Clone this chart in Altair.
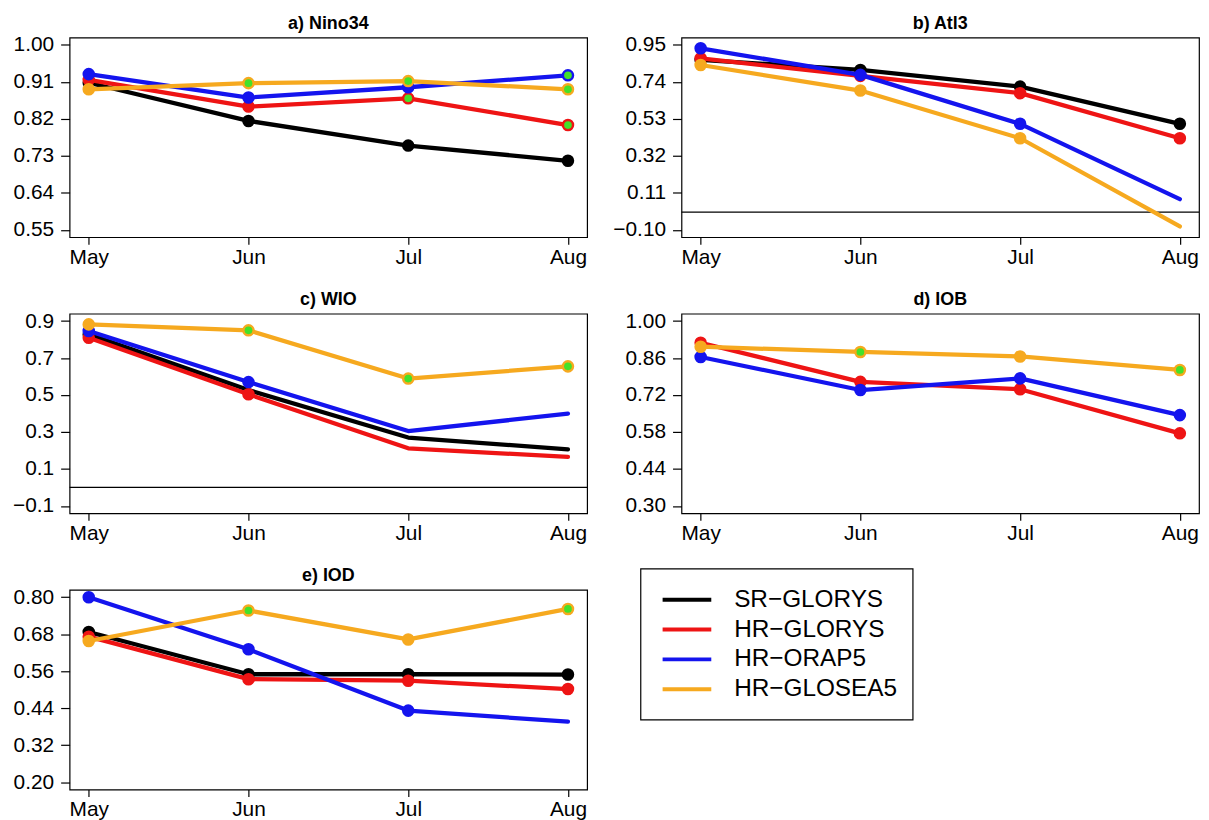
import altair as alt
import pandas as pd

months = ["May", "Jun", "Jul", "Aug"]
series = ["SR-GLORYS", "HR-GLORYS", "HR-ORAP5", "HR-GLOSEA5"]
legend_labels = ["SR\u2212GLORYS", "HR\u2212GLORYS", "HR\u2212ORAP5", "HR\u2212GLOSEA5"]
colors = ["#000000", "#ee1414", "#1414ee", "#f6a91f"]
sig_color = "#44e12a"

titles = ["a) Nino34", "b) Atl3", "c) WIO", "d) IOB", "e) IOD"]
y_ticks = [
    [0.55, 0.64, 0.73, 0.82, 0.91, 1.00],
    [-0.10, 0.11, 0.32, 0.53, 0.74, 0.95],
    [-0.1, 0.1, 0.3, 0.5, 0.7, 0.9],
    [0.30, 0.44, 0.58, 0.72, 0.86, 1.00],
    [0.20, 0.32, 0.44, 0.56, 0.68, 0.80],
]
y_formats = [".2f", ".2f", ".1f", ".2f", ".2f"]
zero_line = [False, True, True, False, False]

# correlation per series, May..Aug
nino34 = {
    "SR-GLORYS": [0.908, 0.815, 0.755, 0.718],
    "HR-GLORYS": [0.915, 0.850, 0.870, 0.805],
    "HR-ORAP5": [0.929, 0.872, 0.897, 0.926],
    "HR-GLOSEA5": [0.892, 0.907, 0.912, 0.892],
}
nino34_marker = {
    "SR-GLORYS": [1, 1, 1, 1],
    "HR-GLORYS": [1, 1, 1, 1],
    "HR-ORAP5": [1, 1, 1, 1],
    "HR-GLOSEA5": [1, 1, 1, 1],
}
nino34_signif = {
    "SR-GLORYS": [0, 0, 0, 0],
    "HR-GLORYS": [0, 0, 1, 1],
    "HR-ORAP5": [0, 0, 0, 1],
    "HR-GLOSEA5": [0, 1, 1, 1],
}

atl3 = {
    "SR-GLORYS": [0.865, 0.808, 0.713, 0.502],
    "HR-GLORYS": [0.874, 0.774, 0.676, 0.420],
    "HR-ORAP5": [0.931, 0.780, 0.502, 0.074],
    "HR-GLOSEA5": [0.836, 0.691, 0.420, -0.081],
}
atl3_marker = {
    "SR-GLORYS": [1, 1, 1, 1],
    "HR-GLORYS": [1, 1, 1, 1],
    "HR-ORAP5": [1, 1, 1, 0],
    "HR-GLOSEA5": [1, 1, 1, 0],
}
atl3_signif = {
    "SR-GLORYS": [0, 0, 0, 0],
    "HR-GLORYS": [0, 0, 0, 0],
    "HR-ORAP5": [0, 0, 0, 0],
    "HR-GLOSEA5": [0, 0, 0, 0],
}

wio = {
    "SR-GLORYS": [0.828, 0.527, 0.270, 0.206],
    "HR-GLORYS": [0.810, 0.504, 0.212, 0.165],
    "HR-ORAP5": [0.846, 0.570, 0.305, 0.399],
    "HR-GLOSEA5": [0.882, 0.850, 0.589, 0.655],
}
wio_marker = {
    "SR-GLORYS": [1, 0, 0, 0],
    "HR-GLORYS": [1, 1, 0, 0],
    "HR-ORAP5": [1, 1, 0, 0],
    "HR-GLOSEA5": [1, 1, 1, 1],
}
wio_signif = {
    "SR-GLORYS": [0, 0, 0, 0],
    "HR-GLORYS": [0, 0, 0, 0],
    "HR-ORAP5": [0, 0, 0, 0],
    "HR-GLOSEA5": [0, 1, 1, 1],
}

iob = {
    "HR-GLORYS": [0.918, 0.770, 0.742, 0.575],
    "HR-ORAP5": [0.864, 0.739, 0.783, 0.644],
    "HR-GLOSEA5": [0.903, 0.883, 0.866, 0.815],
}
iob_marker = {
    "HR-GLORYS": [1, 1, 1, 1],
    "HR-ORAP5": [1, 1, 1, 1],
    "HR-GLOSEA5": [1, 1, 1, 1],
}
iob_signif = {
    "HR-GLORYS": [0, 0, 0, 0],
    "HR-ORAP5": [0, 0, 0, 0],
    "HR-GLOSEA5": [0, 1, 0, 1],
}

iod = {
    "SR-GLORYS": [0.687, 0.550, 0.550, 0.549],
    "HR-GLORYS": [0.672, 0.534, 0.529, 0.502],
    "HR-ORAP5": [0.800, 0.631, 0.432, 0.396],
    "HR-GLOSEA5": [0.658, 0.757, 0.663, 0.762],
}
iod_marker = {
    "SR-GLORYS": [1, 1, 1, 1],
    "HR-GLORYS": [1, 1, 1, 1],
    "HR-ORAP5": [1, 1, 1, 0],
    "HR-GLOSEA5": [1, 1, 1, 1],
}
iod_signif = {
    "SR-GLORYS": [0, 0, 0, 0],
    "HR-GLORYS": [0, 0, 0, 0],
    "HR-ORAP5": [0, 0, 0, 0],
    "HR-GLOSEA5": [0, 1, 0, 1],
}

panels = [
    (nino34, nino34_marker, nino34_signif),
    (atl3, atl3_marker, atl3_signif),
    (wio, wio_marker, wio_signif),
    (iob, iob_marker, iob_signif),
    (iod, iod_marker, iod_signif),
]

FONT = "Liberation Sans"
W, H = 521, 201
label_expr = "[" + ",".join("'%s'" % m for m in months) + "][datum.value - 1]"


def make_panel(k, values, markers, signif):
    rows = []
    for s in series:
        if s not in values:
            continue
        for i, m in enumerate(months):
            rows.append({"mi": i + 1, "month": m, "series": s, "r": values[s][i],
                         "mk": markers[s][i], "sg": signif[s][i]})
    df = pd.DataFrame(rows)
    lo, hi = y_ticks[k][0], y_ticks[k][-1]
    pad = 0.04 * (hi - lo)
    xsc = alt.Scale(domain=[0.88, 4.12], nice=False, zero=False)
    ysc = alt.Scale(domain=[lo - pad, hi + pad], nice=False, zero=False)
    xax = alt.Axis(values=[1, 2, 3, 4], labelExpr=label_expr, title=None)
    yax = alt.Axis(values=y_ticks[k], format=y_formats[k], title=None)
    base = alt.Chart(df)
    layers = []
    if zero_line[k]:
        layers.append(
            alt.Chart(pd.DataFrame({"z": [0.0]}))
            .mark_rule(color="black", strokeWidth=1.2)
            .encode(y=alt.Y("z:Q", scale=ysc, axis=yax))
        )
    for s, c in zip(series, colors):
        if s not in values:
            continue
        sub = base.transform_filter(alt.datum.series == s)
        enc = dict(x=alt.X("mi:Q", scale=xsc, axis=xax),
                   y=alt.Y("r:Q", scale=ysc, axis=yax))
        layers.append(sub.mark_line(color=c, strokeWidth=4.3, strokeCap="round",
                                    strokeJoin="round").encode(**enc))
        layers.append(sub.transform_filter(alt.datum.mk == 1)
                      .mark_circle(color=c, size=160, opacity=1).encode(**enc))
        layers.append(sub.transform_filter(alt.datum.sg == 1)
                      .mark_circle(color=sig_color, size=60, opacity=1).encode(**enc))
    return alt.layer(*layers).properties(
        width=W, height=H,
        title=alt.TitleParams(titles[k], fontSize=18, fontWeight="bold", font=FONT,
                              offset=1, anchor="middle", color="black"),
    )


charts = [make_panel(k, *p) for k, p in enumerate(panels)]

leg_df = pd.DataFrame({"series": series, "label": legend_labels})
leg_y = alt.Y("series:N", sort=series, axis=None,
              scale=alt.Scale(type="point", domain=series, range=[10, 100], padding=0))
leg_box = alt.Chart(pd.DataFrame({"a": [0]})).mark_rect(
    filled=False, stroke="black", strokeWidth=1.2
).encode(x=alt.value(-41), x2=alt.value(233), y=alt.value(-21), y2=alt.value(131))
leg_lines = alt.Chart(leg_df).mark_rule(strokeWidth=4).encode(
    y=leg_y, x=alt.value(-19), x2=alt.value(30),
    color=alt.Color("series:N", scale=alt.Scale(domain=series, range=colors), legend=None),
)
leg_text = alt.Chart(leg_df).mark_text(
    align="left", baseline="middle", fontSize=24.5, font=FONT, color="black"
).encode(y=leg_y, x=alt.value(53), text="label:N")
legend = alt.layer(leg_box, leg_lines, leg_text).properties(
    width=W, height=H, view=alt.ViewBackground(stroke="transparent")
)

chart = alt.concat(*charts, legend, columns=2, spacing={"row": 22, "column": 23},
                   align="each").properties(
    padding={"left": 3, "top": 3, "right": 0, "bottom": 0}
).configure_view(stroke="black", strokeWidth=1.2).configure_axis(
    domain=False, grid=False, labelFont=FONT, labelFontSize=21, labelColor="black",
    tickColor="black", tickSize=7, tickWidth=1.2
).configure_axisY(tickSize=9, labelPadding=7).configure_axisX(labelPadding=2)

chart.save("out.html", embed_options={"renderer": "svg", "actions": False})
